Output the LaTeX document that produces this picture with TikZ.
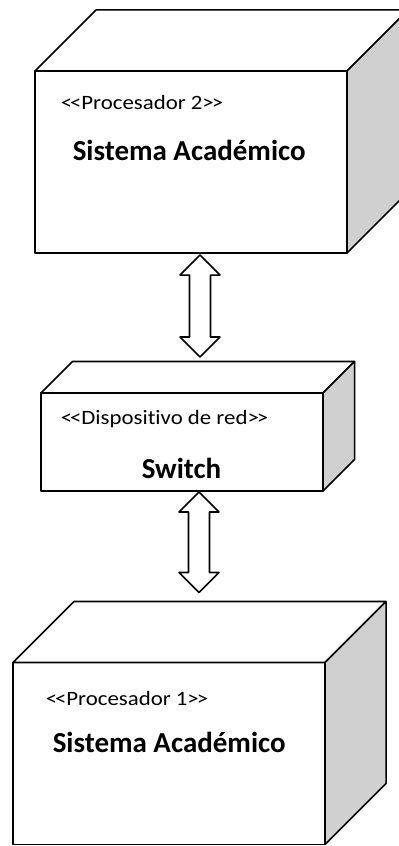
\documentclass[tikz,border=0pt]{standalone}
\usepackage{fontspec}
\setmainfont{Carlito}
\newfontfamily\stereofont[FakeStretch=1.12, Ligatures=NoCommon]{Carlito}
\usetikzlibrary{calc}
\definecolor{sidegray}{RGB}{208,208,208}
\tikzset{
  face/.style={draw, fill=white, inner sep=0pt, outer sep=0pt},
  stereo/.style={anchor=base west, inner sep=0pt, font=\stereofont\fontsize{14.5}{17}\selectfont},
  title/.style={anchor=base west, inner sep=0pt, font=\fontsize{20.6}{24}\selectfont\bfseries}
}
\begin{document}
\begin{tikzpicture}[x=0.025cm, y=-0.025cm, line width=1.1pt, line join=round, line cap=round]
	\useasboundingbox (0,0) rectangle (399,846);
	\clip (0,0) rectangle (399,846);
	% front faces
	\node[face, minimum width=7.8cm, minimum height=4.55cm] (proc2) at (191,162) {};
	\node[face, minimum width=7.05cm, minimum height=2.45cm] (switch) at (182,442) {};
	\node[face, minimum width=7.8cm, minimum height=4.55cm] (proc1) at (169,753.5) {};
	% tops and sides
	\foreach \n/\d in {proc2/61, switch/31.5, proc1/61}{
		\draw[fill=white] (\n.north west) -- ++(\d,-\d) -- ($(\n.north east)+(\d,-\d)$) -- (\n.north east) -- cycle;
		\draw[fill=sidegray] (\n.north east) -- ++(\d,-\d) -- ($(\n.south east)+(\d,-\d)$) -- (\n.south east) -- cycle;
	}
	% labels
	\node[stereo] (st2) at (60,110) {<\kern-1.5pt<Procesador 2>\kern-1.5pt>};
	\node[title] (sa2) at (72,161) {Sistema Académico};
	\node[stereo] (stsw) at (60,424) {<\kern-1.5pt<Dispositivo de red>\kern-1.5pt>};
	\node[title] (sw) at (141,478) {Switch};
	\node[stereo] (st1) at (45,705) {<\kern-1.5pt<Procesador 1>\kern-1.5pt>};
	\node[title] (sa1) at (52,752) {Sistema Académico};
	% connectors
	\coordinate (a1) at ($(proc2.south)+(9,2)$);
	\coordinate (b1) at ($(switch.north)+(18,-36)$);
	\coordinate (a2) at ($(switch.south)+(17,1)$);
	\coordinate (b2) at ($(proc1.north)+(30,-70)$);
	\foreach \a/\b in {a1/b1, a2/b2}{
		\draw[fill=white] (\a) -- ++(20,20) -- ++(-9.5,0) -- ($(\b)+(10.5,-20)$) -- ++(9.5,0) -- (\b)
			-- ++(-20,-20) -- ++(9.5,0) -- ($(\a)+(-10.5,20)$) -- ++(-9.5,0) -- cycle;
	}
\end{tikzpicture}
\end{document}
